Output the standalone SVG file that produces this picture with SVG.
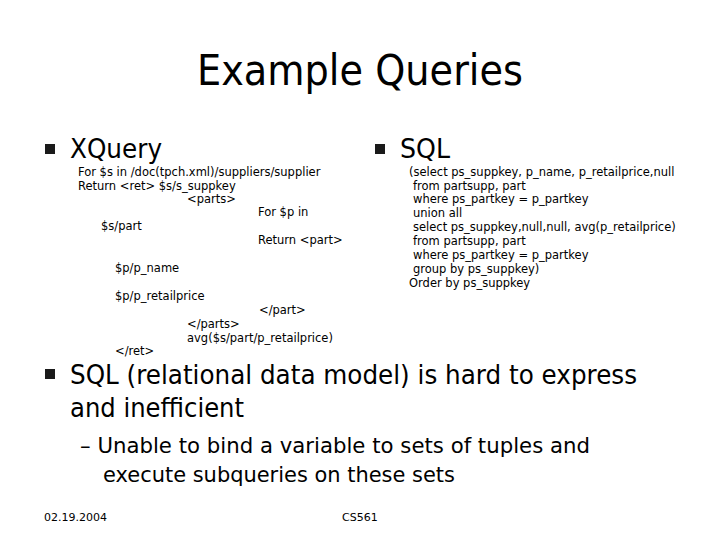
<svg xmlns="http://www.w3.org/2000/svg" width="720" height="540" viewBox="0 0 720 540">
<style>
text{font-family:"DejaVu Sans","Liberation Sans",sans-serif;fill:#000}
.t{font-size:42px}
.b{font-size:26px}
.s{font-size:11.5px}
.f{font-size:11px}
.bul{fill:#1a1a1a}
</style>
<rect width="720" height="540" fill="#fff"/>
<text class="t" x="360" y="85" text-anchor="middle" textLength="326" lengthAdjust="spacingAndGlyphs">Example Queries</text>
<rect class="bul" x="45" y="144" width="10" height="10"/>
<text class="b" x="70" y="158" textLength="92" lengthAdjust="spacingAndGlyphs">XQuery</text>
<rect class="bul" x="375" y="144" width="10" height="10"/>
<text class="b" x="400" y="158" textLength="50" lengthAdjust="spacingAndGlyphs">SQL</text>
<g class="s">
<text x="78" y="176">For $s in /doc(tpch.xml)/suppliers/supplier</text>
<text x="78" y="190">Return &lt;ret&gt; $s/s_suppkey</text>
<text x="187" y="203">&lt;parts&gt;</text>
<text x="258" y="216">For $p in</text>
<text x="101" y="230">$s/part</text>
<text x="258" y="244">Return &lt;part&gt;</text>
<text x="115" y="272">$p/p_name</text>
<text x="115" y="300">$p/p_retailprice</text>
<text x="259" y="314">&lt;/part&gt;</text>
<text x="187" y="328">&lt;/parts&gt;</text>
<text x="187" y="342">avg($s/part/p_retailprice)</text>
<text x="115" y="355">&lt;/ret&gt;</text>
</g>
<g class="s">
<text x="409" y="176">(select ps_suppkey, p_name, p_retailprice,null</text>
<text x="413" y="190">from partsupp, part</text>
<text x="413" y="203">where ps_partkey = p_partkey</text>
<text x="413" y="217">union all</text>
<text x="413" y="231">select ps_suppkey,null,null, avg(p_retailprice)</text>
<text x="413" y="245">from partsupp, part</text>
<text x="413" y="259">where ps_partkey = p_partkey</text>
<text x="413" y="273">group by ps_suppkey)</text>
<text x="409" y="287">Order by ps_suppkey</text>
</g>
<rect class="bul" x="45" y="369" width="10" height="10"/>
<text class="b" x="70" y="384" textLength="567" lengthAdjust="spacingAndGlyphs">SQL (relational data model) is hard to express</text>
<text class="b" x="70" y="417" textLength="174" lengthAdjust="spacingAndGlyphs">and inefficient</text>
<text x="80" y="453" style="font-size:22px" textLength="510" lengthAdjust="spacingAndGlyphs">– Unable to bind a variable to sets of tuples and</text>
<text x="103" y="482" style="font-size:22px" textLength="352" lengthAdjust="spacingAndGlyphs">execute subqueries on these sets</text>
<text class="f" x="44" y="521">02.19.2004</text>
<text class="f" x="342" y="521">CS561</text>
</svg>
